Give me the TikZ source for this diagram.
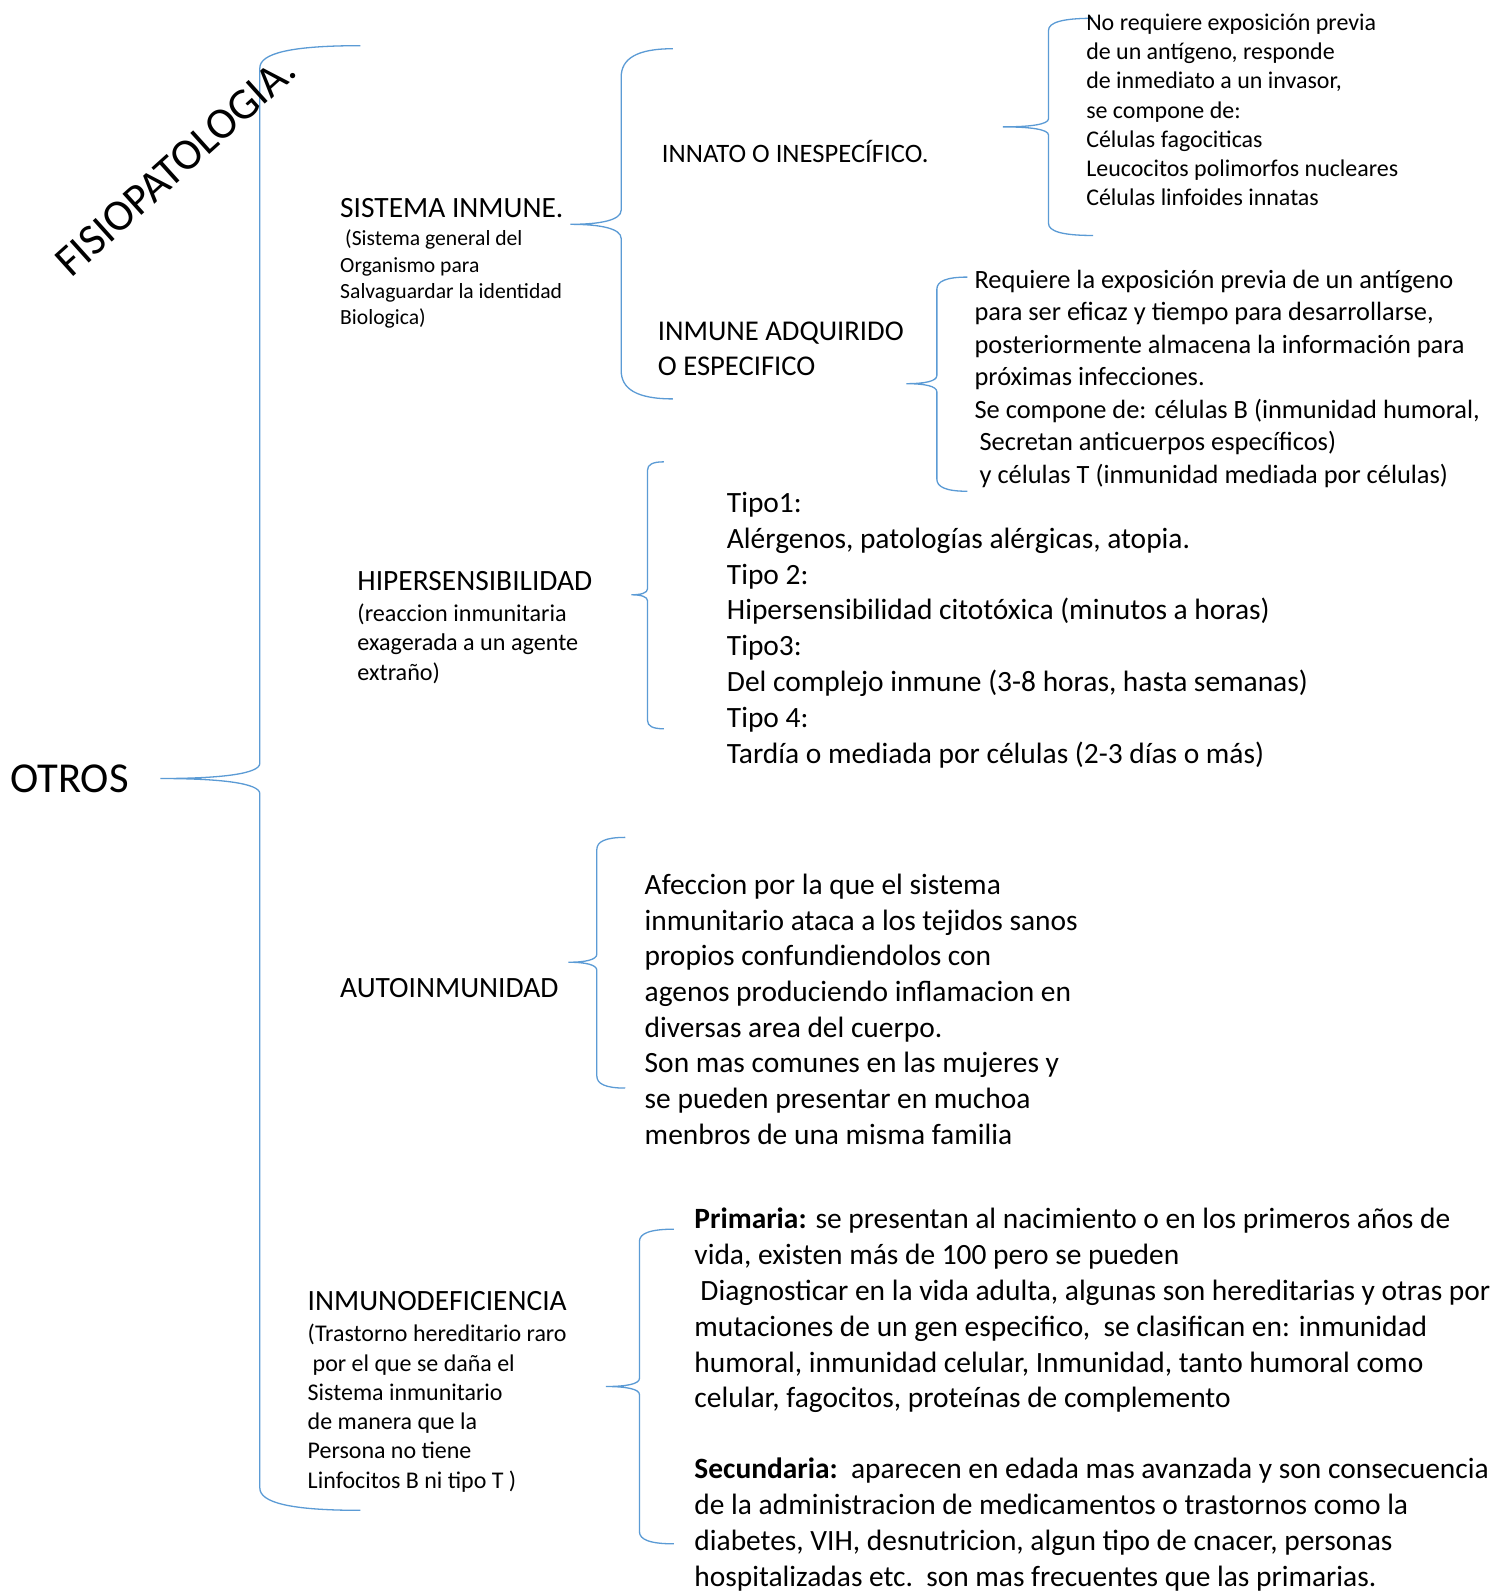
\documentclass[tikz,border=0pt]{standalone}
\usepackage{fontspec}
\setmainfont{Carlito}
\newcommand\fs[2]{\fontsize{\fpeval{#1*1.015}pt}{\fpeval{#2*1.015}pt}\selectfont}
\definecolor{brblue}{RGB}{91,155,213}
\tikzset{
  brc/.style={draw=brblue, line width=1.3pt},
  txt/.style={anchor=base west, inner sep=0pt, align=left, text=black},
}
% #1 end x, #2 top y, #3 vertical x, #4 tip x, #5 mid y, #6 bottom y, #7 corner, #8 mid radius
\newcommand\mybrace[8]{%
\draw[brc] (#1,#2) .. controls ({#3+0.3*(#1-#3)},#2) and (#3,{#2+0.35*#7}) .. (#3,{#2+#7})
  -- (#3,{#5-#8}) .. controls (#3,{#5-0.3*#8}) and ({#3-0.4*(#3-#4)},#5) .. (#4,#5)
  .. controls ({#3-0.4*(#3-#4)},#5) and (#3,{#5+0.3*#8}) .. (#3,{#5+#8})
  -- (#3,{#6-#7}) .. controls (#3,{#6-0.35*#7}) and ({#3+0.3*(#1-#3)},#6) .. (#1,#6);}
\begin{document}
\begin{tikzpicture}[x=1.015pt,y=-1.015pt]
\fill[white] (0,0) rectangle (1484.73,1568.47);
\useasboundingbox (0,0) rectangle (1484.73,1568.47);

% braces
\mybrace{355}{45}{256}{158}{767}{1488}{22}{15}
\mybrace{663}{48}{612}{562}{221}{393}{28}{14}
\mybrace{1077}{18}{1033}{988}{125}{232}{12}{8}
\mybrace{953}{273}{923}{893}{378}{484}{12}{8}
\mybrace{654}{455}{638}{622}{586}{718}{8}{6}
\mybrace{616}{825}{588}{560}{948}{1072}{12}{8}
\mybrace{664}{1211}{630}{597}{1366}{1521}{12}{8}

% texts (base = baseline of last line)
\node[txt, font=\fs{42}{50}] (otros) at (10,781) {OTROS};
\node[txt, rotate=42, font=\fs{43.5}{50}] (fisio) at (70,275) {FISIOPATOLOGIA.};

\node[txt, font=\fs{29}{36}] (sis) at (335,214) {SISTEMA INMUNE.};
\node[txt, font=\fs{21.3}{26}] (sissub) at (335,320) {\hspace*{5pt}(Sistema general del\\Organismo para\\Salvaguardar la identidad\\Biologica)};

\node[txt, font=\fs{26.2}{32}] (innato) at (652,160) {INNATO O INESPECÍFICO.};
\node[txt, font=\fs{23.6}{28.8}] (innatotx) at (1070,202.8) {No requiere exposición previa\\de un antígeno, responde\\de inmediato a un invasor,\\se compone de:\\Células fagociticas\\Leucocitos polimorfos nucleares\\Células linfoides innatas};

\node[txt, font=\fs{28.2}{35}] (adq) at (648,370) {INMUNE ADQUIRIDO\\O ESPECIFICO};
\node[txt, font=\fs{26}{32}] (adqtx) at (960,476) {Requiere la exposición previa de un antígeno\\para ser eficaz y tiempo para desarrollarse,\\posteriormente almacena la información para\\próximas infecciones.\\Se compone de: células B (inmunidad humoral,\\\hspace*{5pt}Secretan anticuerpos específicos)\\\hspace*{5pt}y células T (inmunidad mediada por células)};

\node[txt, font=\fs{29}{35}] (hiper) at (352,582) {HIPERSENSIBILIDAD};
\node[txt, font=\fs{23.8}{29}] (hipersub) at (352,670) {(reaccion inmunitaria\\exagerada a un agente\\extraño)};
\node[txt, font=\fs{29}{35.3}] (tipos) at (716,752) {Tipo1:\\Alérgenos, patologías alérgicas, atopia.\\Tipo 2:\\Hipersensibilidad citotóxica (minutos a horas)\\Tipo3:\\Del complejo inmune (3-8 horas, hasta semanas)\\Tipo 4:\\Tardía o mediada por células (2-3 días o más)};

\node[txt, font=\fs{29}{35}] (auto) at (335,983) {AUTOINMUNIDAD};
\node[txt, font=\fs{29}{35.2}] (autotx) at (635,1127.5) {Afeccion por la que el sistema\\inmunitario ataca a los tejidos sanos\\propios confundiendolos con\\agenos produciendo inflamacion en\\diversas area del cuerpo.\\Son mas comunes en las mujeres y\\se pueden presentar en muchoa\\menbros de una misma familia};

\node[txt, font=\fs{29}{35}] (inmdef) at (303,1291) {INMUNODEFICIENCIA};
\node[txt, font=\fs{23.6}{28.8}] (inmdefsub) at (303,1466) {(Trastorno hereditario raro\\\hspace*{5pt}por el que se daña el\\Sistema inmunitario\\de manera que la\\Persona no tiene\\Linfocitos B ni tipo T )};
\node[txt, font=\fs{29}{35.3}] (inmdeftx) at (684,1563) {\textbf{Primaria:} se presentan al nacimiento o en los primeros años de\\vida, existen más de 100 pero se pueden\\\hspace*{6pt}Diagnosticar en la vida adulta, algunas son hereditarias y otras por\\mutaciones de un gen especifico,\ \ se clasifican en: inmunidad\\humoral, inmunidad celular, Inmunidad, tanto humoral como\\celular, fagocitos, proteínas de complemento\\[35.3pt]\textbf{Secundaria:}\ \ aparecen en edada mas avanzada y son consecuencia\\de la administracion de medicamentos o trastornos como la\\diabetes, VIH, desnutricion, algun tipo de cnacer, personas\\hospitalizadas etc.\ \ son mas frecuentes que las primarias.};
\end{tikzpicture}
\end{document}
